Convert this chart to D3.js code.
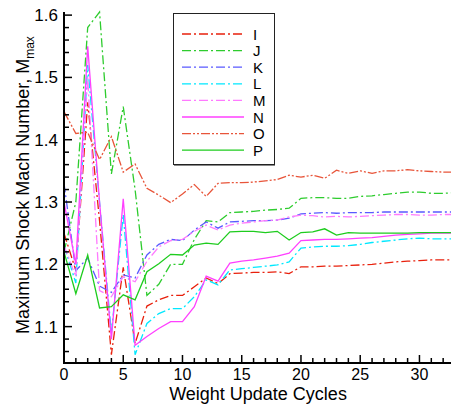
<!DOCTYPE html>
<html><head><meta charset="utf-8">
<script src="https://cdn.jsdelivr.net/npm/d3@7/dist/d3.min.js"></script>
<style>body{margin:0;background:#fff}svg{display:block}text{font-family:"Liberation Sans",Arial,sans-serif}</style>
</head><body>
<svg id="c" width="451" height="410"></svg>
<script>
const cycles = d3.range(0, 34);
const seriesNames = ["I","J","K","L","M","N","O","P"];
const I = [1.25,1.19,1.46,1.27,1.055,1.195,1.073,1.133,1.143,1.15,1.15,1.164,1.178,1.169,1.185,1.186,1.187,1.187,1.188,1.185,1.196,1.196,1.197,1.197,1.198,1.199,1.2,1.202,1.204,1.205,1.206,1.207,1.207,1.207];
const J = [1.22,1.3,1.58,1.605,1.345,1.453,1.32,1.15,1.168,1.2,1.2,1.24,1.27,1.268,1.283,1.284,1.285,1.287,1.288,1.29,1.306,1.307,1.307,1.306,1.306,1.309,1.31,1.312,1.314,1.316,1.316,1.314,1.314,1.315];
const K = [1.33,1.19,1.21,1.165,1.155,1.183,1.178,1.215,1.232,1.24,1.238,1.255,1.268,1.258,1.268,1.269,1.27,1.27,1.271,1.274,1.281,1.282,1.283,1.282,1.283,1.283,1.283,1.284,1.284,1.284,1.284,1.284,1.284,1.284];
const L = [1.23,1.17,1.52,1.3,1.09,1.28,1.055,1.105,1.121,1.129,1.129,1.148,1.175,1.167,1.191,1.193,1.195,1.197,1.199,1.204,1.226,1.228,1.229,1.229,1.23,1.232,1.235,1.237,1.239,1.241,1.242,1.241,1.241,1.241];
const M = [1.23,1.18,1.5,1.158,1.148,1.18,1.172,1.205,1.228,1.238,1.24,1.253,1.263,1.255,1.263,1.266,1.268,1.27,1.271,1.276,1.279,1.278,1.276,1.277,1.276,1.277,1.278,1.279,1.28,1.28,1.279,1.279,1.28,1.28];
const N = [1.3,1.2,1.55,1.3,1.08,1.305,1.07,1.084,1.097,1.108,1.108,1.132,1.181,1.173,1.202,1.205,1.207,1.21,1.213,1.218,1.238,1.239,1.24,1.24,1.241,1.242,1.243,1.245,1.247,1.248,1.249,1.25,1.25,1.25];
const O = [1.445,1.41,1.412,1.368,1.405,1.348,1.361,1.322,1.311,1.299,1.313,1.328,1.309,1.33,1.331,1.331,1.332,1.334,1.336,1.343,1.34,1.343,1.338,1.351,1.346,1.35,1.346,1.35,1.35,1.352,1.35,1.349,1.348,1.348];
const P = [1.22,1.153,1.215,1.13,1.132,1.151,1.143,1.188,1.201,1.216,1.215,1.231,1.234,1.232,1.252,1.253,1.253,1.251,1.253,1.239,1.251,1.252,1.257,1.247,1.251,1.25,1.25,1.25,1.25,1.25,1.251,1.251,1.251,1.251];
const xTicks = [0,5,10,15,20,25,30];
const yTicks = [1.1,1.2,1.3,1.4,1.5,1.6];

const seriesData = [I,J,K,L,M,N,O,P];
const colors = ["#e8200c","#2ecc2e","#5a5aff","#00e8ff","#ff7aff","#ff40ff","#e8553a","#1ecc1e"];
const dashes = ["9,3,2,3","9,3,2,3","9,3,2,3","9,3,2,3","9,3,2,3",null,"9,2,2,2,2,2",null];

const svg = d3.select("#c");
const x = d3.scaleLinear().domain([0,33]).range([64,455]);
const y = d3.scaleLinear().domain([1.04,1.605]).range([364,12]);

const line = d3.line().x((d,i)=>x(cycles[i])).y(d=>y(d));
const g = svg.append("g");
seriesData.forEach((s,k)=>{
  g.append("path").attr("d", line(s)).attr("fill","none")
   .attr("stroke", colors[k]).attr("stroke-width", 1.3)
   .attr("stroke-dasharray", dashes[k]);
});

// axes
const ax = svg.append("g").attr("stroke","#000");
ax.append("line").attr("x1",64).attr("x2",64).attr("y1",12).attr("y2",364).attr("stroke-width",2);
ax.append("line").attr("x1",63).attr("x2",455).attr("y1",363).attr("y2",363).attr("stroke-width",2);
const yMinor = d3.range(1.06, 1.6001, 0.02);
yMinor.forEach(v=>{
  const major = yTicks.some(t=>Math.abs(t-v)<1e-6);
  ax.append("line").attr("x1",64).attr("x2",64+(major?8:5)).attr("y1",y(v)).attr("y2",y(v)).attr("stroke-width",1.5);
});
d3.range(1,34).forEach(v=>{
  const major = v%5===0;
  ax.append("line").attr("x1",x(v)).attr("x2",x(v)).attr("y1",363).attr("y2",363-(major?8:5)).attr("stroke-width",1.5);
});
svg.append("g").selectAll("text").data(yTicks).join("text")
  .attr("x",58).attr("y",d=>y(d)+6).attr("text-anchor","end").attr("font-size",17).text(d=>d.toFixed(1));
svg.append("g").selectAll("text").data(xTicks).join("text")
  .attr("x",d=>x(d)).attr("y",379.5).attr("text-anchor","middle").attr("font-size",16).text(d=>d);

svg.append("text").attr("x",258).attr("y",400).attr("text-anchor","middle").attr("font-size",18).text("Weight Update Cycles");
const yt = svg.append("text").attr("transform","translate(28.5,185) rotate(-90)").attr("text-anchor","middle").attr("font-size",18);
yt.append("tspan").text("Maximum Shock Mach Number, M");
yt.append("tspan").attr("dy",5).attr("font-size",12).text("max");

// legend
const lg = svg.append("g");
lg.append("rect").attr("x",173.5).attr("y",13.5).attr("width",101).attr("height",151).attr("fill","#fff").attr("stroke","#222").attr("stroke-width",1);
lg.append("line").attr("x1",174).attr("x2",275).attr("y1",165.5).attr("y2",165.5).attr("stroke","#888").attr("stroke-width",1);
seriesNames.forEach((n,k)=>{
  const yy = 34 + k*16.6;
  lg.append("line").attr("x1",182).attr("x2",244).attr("y1",yy).attr("y2",yy)
    .attr("stroke",colors[k]).attr("stroke-width",1.3).attr("stroke-dasharray",dashes[k]);
  lg.append("text").attr("x",253).attr("y",yy+5.5).attr("font-size",15).text(n);
});
</script>
</body></html>
